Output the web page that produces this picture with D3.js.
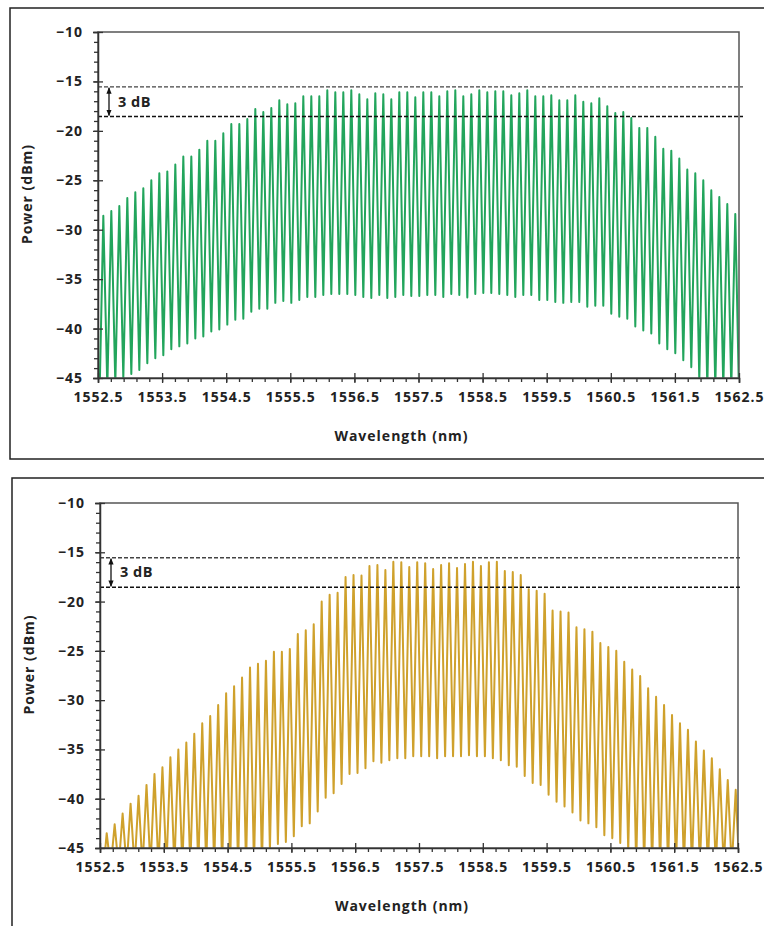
<!DOCTYPE html>
<html>
<head>
<meta charset="utf-8">
<script src="https://cdn.jsdelivr.net/npm/d3@7"></script>
<style>
  html, body { margin: 0; background: #fff; overflow: hidden; }
  svg { display: block; }
  svg text { font-family: "Open Sans", sans-serif; font-weight: bold; fill: #222; }
</style>
</head>
<body>
<svg id="chart" width="764" height="926"></svg>
<script>
// ---- data ----
// comb line peaks (dBm), left to right
const topPeaks = [
  -28.6, -28.1, -27.6, -26.8, -26.2, -25.8, -25.0, -24.3, -24.1, -23.4,
  -22.6, -22.6, -21.9, -21.0, -21.0, -20.25, -19.3, -19.3, -18.8, -17.8,
  -18.1, -17.7, -16.9, -17.3, -17.2, -16.5, -16.5, -16.5, -15.9, -16.1,
  -16.1, -15.9, -16.3, -16.8, -16.2, -16.3, -16.8, -16.1, -16.1, -16.6,
  -16.1, -16.1, -16.5, -16.0, -15.9, -16.5, -16.3, -15.9, -16.1, -16.0,
  -16.0, -16.4, -16.2, -15.9, -16.5, -16.5, -16.4, -16.9, -16.9, -16.4,
  -17.05, -17.2, -16.7, -17.5, -18.2, -18.1, -18.7, -19.7, -19.7, -20.6,
  -21.8, -22.0, -22.8, -23.9, -24.3, -25.0, -26.0, -26.7, -27.4, -28.4
];
// troughs: first/last are the trace at the plot edges, the rest sit between peaks
const topTroughs = [
  -48,
  -46, -45.6, -45.0, -44.6, -44.2, -43.5, -43.0, -42.7, -42.1, -41.8,
  -41.5, -41.0, -40.8, -40.3, -40.1, -39.6, -39.1, -39.0, -38.3, -38.0,
  -38.0, -37.4, -37.2, -37.4, -37.1, -36.8, -36.8, -36.6, -36.5, -36.5,
  -36.5, -36.6, -36.8, -36.9, -36.6, -36.9, -36.8, -36.6, -36.7, -36.7,
  -36.6, -36.6, -36.8, -36.5, -36.6, -36.85, -36.5, -36.4, -36.4, -36.5,
  -36.6, -36.8, -36.6, -36.6, -37.1, -37.1, -37.3, -37.4, -37.3, -37.3,
  -37.8, -37.7, -37.7, -38.5, -38.8, -39.0, -39.8, -40.2, -40.5, -41.5,
  -42.1, -42.5, -43.2, -43.9, -45.3, -46, -46, -46, -46,
  -48
];
const botPeaks = [
  -43.5, -42.6, -41.5, -40.5, -39.7, -38.6, -37.5, -36.8, -35.8, -35.0,
  -34.3, -33.4, -32.35, -31.6, -30.5, -29.3, -28.6, -27.7, -26.7, -26.3,
  -26.0, -25.1, -25.1, -24.8, -23.3, -22.9, -22.3, -20.0, -19.3, -19.1,
  -17.5, -17.3, -17.35, -16.4, -16.3, -16.8, -15.95, -16.0, -16.5, -16.0,
  -16.1, -16.7, -16.3, -16.1, -16.6, -16.2, -15.95, -16.4, -16.0, -15.95,
  -16.9, -17.0, -17.3, -18.75, -18.9, -19.2, -20.9, -21.0, -21.1, -22.6,
  -22.8, -23.05, -24.2, -24.6, -25.0, -26.1, -26.9, -27.55, -28.8, -29.65,
  -30.5, -31.5, -32.35, -33.0, -34.2, -35.1, -35.9, -37.0, -38.1, -39.1
];
const botTroughs = [
  -48,
  -47, -47, -47, -47, -47, -47, -47, -47, -47, -47,
  -47, -47, -47, -47, -47, -47, -47, -47, -47, -47,
  -45.3, -44.6, -44.4, -43.8, -42.8, -42.5, -41.3, -39.9, -39.45, -38.5,
  -37.5, -37.4, -36.9, -36.2, -36.35, -36.1, -35.9, -35.9, -35.7, -35.7,
  -35.7, -35.9, -35.7, -35.7, -35.7, -35.6, -35.7, -35.7, -35.9, -36.1,
  -36.6, -36.75, -37.7, -38.4, -38.6, -39.6, -40.3, -40.8, -41.4, -42.2,
  -42.5, -42.9, -43.7, -44.0, -44.5, -45.3, -47, -47, -47, -47,
  -47, -47, -47, -47, -47, -47, -47, -47, -47,
  -48
];
const firstLine = [1552.583, 1552.605];   // wavelength of the first comb line (nm)
const lineSpacing = 0.1248;               // comb spacing (nm)
const flatTop = [-15.55, -18.55];         // 3 dB band (dashed lines)
const xTicks = [1552.5, 1553.5, 1554.5, 1555.5, 1556.5, 1557.5, 1558.5, 1559.5, 1560.5, 1561.5, 1562.5];
const yTicks = [-10, -15, -20, -25, -30, -35, -40, -45];

const svg = d3.select("#chart");

// panel frames (right/bottom edges run off the picture)
svg.append("rect").attr("x", 10).attr("y", 8).attr("width", 780).attr("height", 451)
  .attr("fill", "none").attr("stroke", "#222").attr("stroke-width", 1.5);
svg.append("rect").attr("x", 12).attr("y", 478).attr("width", 780).attr("height", 470)
  .attr("fill", "none").attr("stroke", "#222").attr("stroke-width", 1.5);

// arrow head marker
const defs = svg.append("defs");
defs.append("marker").attr("id", "arr").attr("viewBox", "0 0 10 10")
  .attr("refX", 9).attr("refY", 5).attr("markerWidth", 5).attr("markerHeight", 5)
  .attr("orient", "auto-start-reverse")
  .append("path").attr("d", "M0,1 L10,5 L0,9 z").attr("fill", "#111");

function drawPanel(opt) {
  const { left, right, top, bottom, peaks, troughs, start, color, id } = opt;

  const x = d3.scaleLinear().domain([1552.5, 1562.5]).range([left, right]);
  const y = d3.scaleLinear().domain([-45, -10]).range([bottom, top]);

  const g = svg.append("g");

  // build the trace: edge, peak, trough, peak, ... , peak, edge
  const pts = [];
  pts.push([start - lineSpacing / 2, troughs[0]]);
  peaks.forEach((p, k) => {
    pts.push([start + k * lineSpacing, p]);
    pts.push([start + (k + 0.5) * lineSpacing, troughs[k + 1]]);
  });

  defs.append("clipPath").attr("id", id)
    .append("rect").attr("x", left).attr("y", top)
    .attr("width", right - left).attr("height", bottom - top);

  const line = d3.line().x(d => x(d[0])).y(d => y(d[1]));
  g.append("path")
    .datum(pts)
    .attr("clip-path", `url(#${id})`)
    .attr("d", line)
    .attr("fill", "none")
    .attr("stroke", color)
    .attr("stroke-width", 2)
    .attr("stroke-linejoin", "round");

  // plot box (top and right sides grey)
  g.append("rect").attr("x", left).attr("y", top)
    .attr("width", right - left).attr("height", bottom - top)
    .attr("fill", "none").attr("stroke", "#555").attr("stroke-width", 1.5);

  // 3 dB band lines
  g.selectAll(".band").data(flatTop).enter().append("line")
    .attr("x1", left).attr("x2", right + 4)
    .attr("y1", d => y(d)).attr("y2", d => y(d))
    .attr("stroke", (d, i) => i === 0 ? "#444" : "#111")
    .attr("stroke-width", 1.4)
    .attr("stroke-dasharray", "4,2");

  // 3 dB arrow and label
  g.append("line")
    .attr("x1", left + 11).attr("x2", left + 11)
    .attr("y1", y(flatTop[0]) + 1).attr("y2", y(flatTop[1]) - 1)
    .attr("stroke", "#111").attr("stroke-width", 1.3)
    .attr("marker-start", "url(#arr)").attr("marker-end", "url(#arr)");
  g.append("text")
    .attr("x", left + 20).attr("y", y((flatTop[0] + flatTop[1]) / 2) + 5)
    .style("font-size", "14.5px").style("letter-spacing", "0.5px")
    .text("3 dB");

  // x axis: major ticks crossing the axis, minor ticks outside
  const xMinor = d3.range(1552.5, 1562.51, 0.2).map(v => +v.toFixed(1));
  g.append("g").attr("transform", `translate(0,${bottom})`)
    .call(d3.axisBottom(x).tickValues(xMinor).tickSize(4).tickFormat(""))
    .call(a => a.select(".domain").remove());
  g.append("g").attr("transform", `translate(0,${bottom})`)
    .call(d3.axisTop(x).tickValues(xTicks).tickSize(5).tickFormat(""))
    .call(a => a.select(".domain").remove());
  const xa = g.append("g").attr("transform", `translate(0,${bottom})`)
    .call(d3.axisBottom(x).tickValues(xTicks).tickSize(5).tickPadding(9).tickFormat(d3.format(".1f")));
  xa.selectAll("text").style("font-size", "14px").style("letter-spacing", "1px")
    .style("font-family", "'Open Sans', sans-serif").style("font-weight", "bold").attr("fill", "#222");

  // y axis
  const yMinor = d3.range(-45, -9.9, 1);
  g.append("g").attr("transform", `translate(${left},0)`)
    .call(d3.axisLeft(y).tickValues(yMinor).tickSize(4).tickFormat(""))
    .call(a => a.select(".domain").remove());
  g.append("g").attr("transform", `translate(${left},0)`)
    .call(d3.axisRight(y).tickValues(yTicks).tickSize(5).tickFormat(""))
    .call(a => a.select(".domain").remove());
  const ya = g.append("g").attr("transform", `translate(${left},0)`)
    .call(d3.axisLeft(y).tickValues(yTicks).tickSize(5).tickPadding(10).tickFormat(d3.format("d")));
  ya.selectAll("text").style("font-size", "14px").style("letter-spacing", "1px")
    .style("font-family", "'Open Sans', sans-serif").style("font-weight", "bold").attr("fill", "#222");

  [xa, ya].forEach(a => {
    a.select(".domain").attr("stroke", "#333").attr("stroke-width", 1.5);
  });
  g.selectAll(".tick line").attr("stroke", "#333").attr("stroke-width", 1.3);

  // axis titles
  g.append("text")
    .attr("x", (left + right) / 2 - 17).attr("y", bottom + 63)
    .attr("text-anchor", "middle")
    .style("font-size", "14px").style("letter-spacing", "1px")
    .text("Wavelength (nm)");
  g.append("text")
    .attr("transform", `translate(${left - 66},${(top + bottom) / 2 - 11}) rotate(-90)`)
    .attr("text-anchor", "middle")
    .style("font-size", "14px").style("letter-spacing", "1px")
    .text("Power (dBm)");
}

drawPanel({ left: 98, right: 739, top: 32, bottom: 378,
  peaks: topPeaks, troughs: topTroughs, start: firstLine[0], color: "#22a55c", id: "clipTop" });
drawPanel({ left: 100, right: 738, top: 503, bottom: 848,
  peaks: botPeaks, troughs: botTroughs, start: firstLine[1], color: "#cfa12c", id: "clipBot" });
</script>
</body>
</html>
